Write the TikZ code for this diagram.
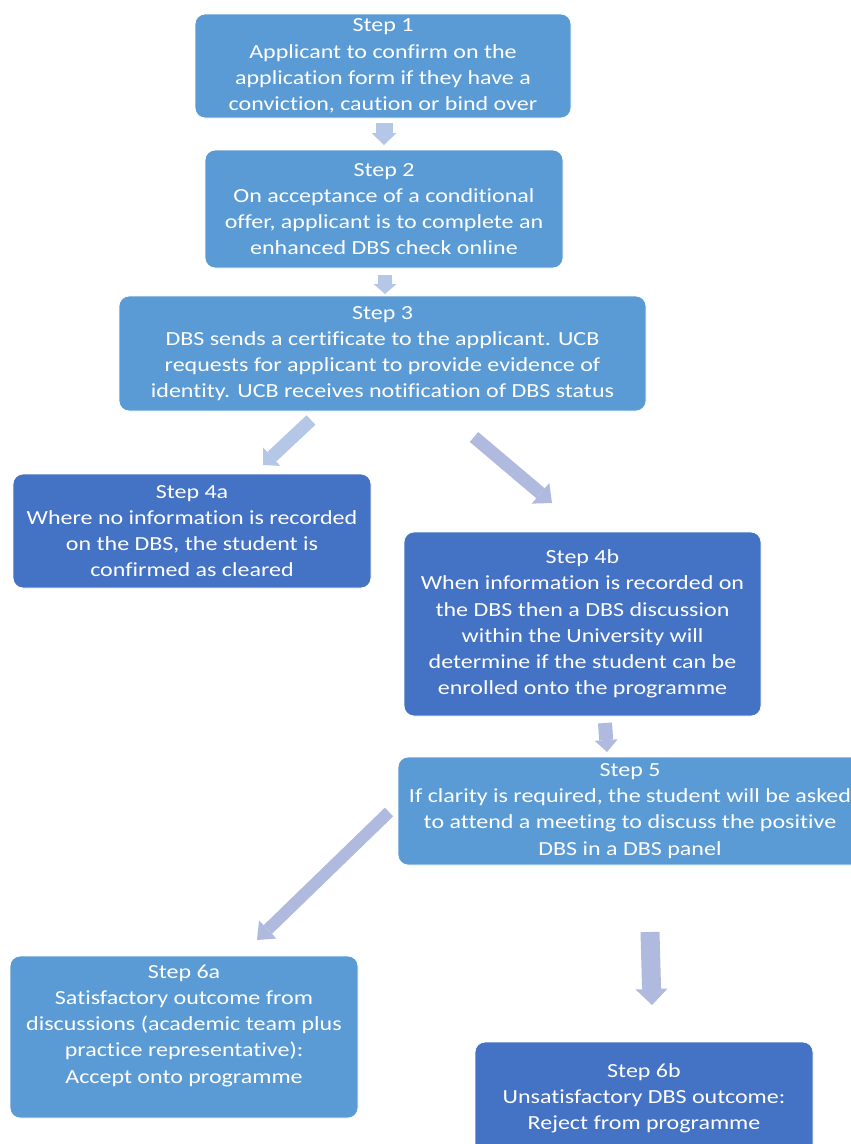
\documentclass[tikz,border=0pt]{standalone}
\usepackage{fontspec}
\setmainfont{Carlito}[FakeStretch=1.2, Ligatures=NoCommon]
\usetikzlibrary{arrows.meta}
\definecolor{boxlight}{HTML}{5B9BD5}
\definecolor{boxdark}{HTML}{4472C4}
\definecolor{arrlight}{HTML}{B4C7E7}
\definecolor{arrlav}{HTML}{AFBADE}
\tikzset{
  stepbox/.style={rectangle, rounded corners=10pt, draw=white, line width=0.8pt,
    text=white, align=center, inner sep=0pt,
    font=\fontsize{20}{26.2}\selectfont},
  lightbox/.style={stepbox, fill=boxlight},
  darkbox/.style={stepbox, fill=boxdark},
  blockarrow/.style n args={3}{line width=#1, -{Triangle[width=#2,length=#3,line width=0pt]}},
}
\begin{document}
\begin{tikzpicture}[x=1pt,y=-1pt]
\useasboundingbox (0,0) rectangle (851,1144);
\clip (0,0) rectangle (851,1144);
\fill[white] (0,0) rectangle (851,1144);

\node[lightbox, minimum width=376pt, minimum height=104pt] (s1) at (383,66)
  {Step 1\\Applicant to confirm on the\\application form if they have a\\conviction, caution or bind over};
\node[lightbox, minimum width=358pt, minimum height=118pt] (s2) at (384,209)
  {Step 2\\On acceptance of a conditional\\offer, applicant is to complete an\\enhanced DBS check online};
\node[lightbox, minimum width=527pt, minimum height=115pt] (s3) at (382.5,353.5)
  {Step 3\\DBS sends a certificate to the applicant. UCB\\requests for applicant to provide evidence of\\identity. UCB receives notification of DBS status};
\node[darkbox, minimum width=358pt, minimum height=114pt] (s4a) at (192,531)
  {Step 4a\\Where no information is recorded\\on the DBS, the student is\\confirmed as cleared};
\node[darkbox, minimum width=357pt, minimum height=184pt] (s4b) at (582.5,624)
  {Step 4b\\When information is recorded on\\the DBS then a DBS discussion\\within the University will\\determine if the student can be\\enrolled onto the programme};
\node[lightbox, minimum width=464pt, minimum height=108pt] (s5) at (630,811)
  {Step 5\\If clarity is required, the student will be asked\\to attend a meeting to discuss the positive\\DBS in a DBS panel};
\node[lightbox, minimum width=348pt, minimum height=162pt] (s6a) at (184,1037)
  {Step 6a\\Satisfactory outcome from\\discussions (academic team plus\\practice representative):\\Accept onto programme\\\mbox{}};
\node[darkbox, minimum width=338pt, minimum height=112pt] (s6b) at (644,1098)
  {Step 6b\\Unsatisfactory DBS outcome:\\Reject from programme};

\coordinate (a12s) at (384,123); \coordinate (a12e) at (384,145);
\coordinate (a23s) at (385,275); \coordinate (a23e) at (385,294);
\coordinate (a34as) at (311,420); \coordinate (a34ae) at (263,465);
\coordinate (a34bs) at (474,437); \coordinate (a34be) at (552,503);
\coordinate (a45s) at (605,723); \coordinate (a45e) at (607,752);
\coordinate (a56as) at (389,812); \coordinate (a56ae) at (257,940);
\coordinate (a56bs) at (650,932); \coordinate (a56be) at (652,1005);

\draw[arrlight, blockarrow={17pt}{25pt}{12pt}] (a12s) -- (a12e);
\draw[arrlight, blockarrow={14pt}{23pt}{10pt}] (a23s) -- (a23e);
\draw[arrlight, blockarrow={13pt}{25pt}{12pt}] (a34as) -- (a34ae);
\draw[arrlav, blockarrow={13pt}{27pt}{15pt}] (a34bs) -- (a34be);
\draw[arrlav, blockarrow={14pt}{23pt}{12pt}] (a45s) -- (a45e);
\draw[arrlav, blockarrow={12pt}{25pt}{15pt}] (a56as) -- (a56ae);
\draw[arrlav, blockarrow={19pt}{32pt}{16pt}] (a56bs) -- (a56be);
\end{tikzpicture}
\end{document}
